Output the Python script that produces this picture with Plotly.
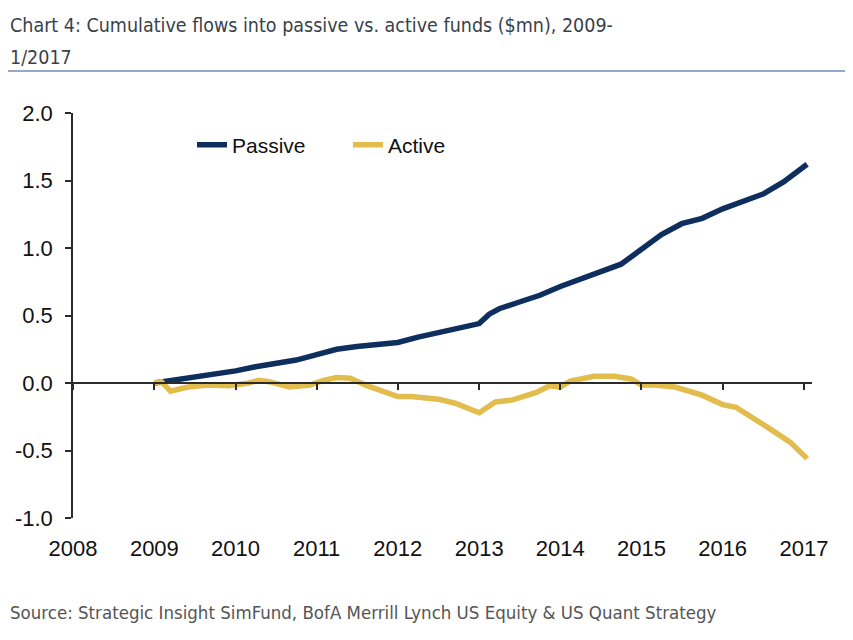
import plotly.graph_objects as go

# ---- data ----
passive_dates = ["2009-01-01", "2009-04-01", "2009-07-01", "2009-10-01",
                 "2010-01-01", "2010-04-01", "2010-07-01", "2010-10-01",
                 "2011-01-01", "2011-04-01", "2011-07-01", "2011-10-01",
                 "2012-01-01", "2012-04-01", "2012-07-01", "2012-10-01",
                 "2013-01-01", "2013-02-15", "2013-04-01", "2013-07-01", "2013-10-01",
                 "2014-01-01", "2014-04-01", "2014-07-01", "2014-10-01",
                 "2015-01-01", "2015-04-01", "2015-07-01", "2015-10-01",
                 "2016-01-01", "2016-04-01", "2016-07-01", "2016-10-01",
                 "2017-01-15"]
passive_values = [0.00, 0.02, 0.05, 0.07,
                  0.09, 0.12, 0.14, 0.17,
                  0.21, 0.25, 0.27, 0.28,
                  0.30, 0.34, 0.37, 0.40,
                  0.44, 0.51, 0.55, 0.60, 0.65,
                  0.715, 0.77, 0.82, 0.88,
                  0.99, 1.10, 1.18, 1.22,
                  1.29, 1.34, 1.40, 1.49,
                  1.62]

active_dates = ["2009-01-01", "2009-02-01", "2009-03-15", "2009-06-01", "2009-09-01",
                "2009-12-01", "2010-03-01", "2010-04-15", "2010-06-01", "2010-09-01",
                "2010-12-01", "2011-02-01", "2011-04-01", "2011-06-01", "2011-08-15",
                "2011-11-01", "2012-01-01", "2012-03-01", "2012-07-01", "2012-09-15",
                "2013-01-01", "2013-03-15", "2013-06-01", "2013-09-15", "2013-11-15",
                "2014-01-01", "2014-02-15", "2014-06-01", "2014-09-01", "2014-11-15",
                "2015-01-01", "2015-03-01", "2015-06-01", "2015-10-01", "2016-01-01",
                "2016-03-01", "2016-06-01", "2016-08-01", "2016-11-01", "2017-01-15"]
active_values = [0.00, 0.01, -0.06, -0.03, -0.015,
                 -0.02, 0.00, 0.02, 0.01, -0.03,
                 -0.015, 0.02, 0.04, 0.035, -0.02,
                 -0.06, -0.10, -0.10, -0.12, -0.15,
                 -0.22, -0.14, -0.125, -0.07, -0.02,
                 -0.03, 0.015, 0.05, 0.05, 0.03,
                 -0.015, -0.015, -0.03, -0.09, -0.16,
                 -0.18, -0.27, -0.34, -0.44, -0.56]

x_range = ["2008-01-01", "2017-02-06"]
y_range = [-1.0, 2.0]
y_ticks = [-1.0, -0.5, 0.0, 0.5, 1.0, 1.5, 2.0]
y_tick_labels = ["-1.0", "-0.5", "0.0", "0.5", "1.0", "1.5", "2.0"]

title_line1 = "Chart 4: Cumulative flows into passive vs. active funds ($mn), 2009-"
title_line2 = "1/2017"
source_text = "Source: Strategic Insight SimFund, BofA Merrill Lynch US Equity & US Quant Strategy"

NAVY = "#0E2F5E"
GOLD = "#E3BC4E"
AXIS = "#2B2B2B"
NARROW = "DejaVu Sans Condensed, Liberation Sans Narrow, sans-serif"
ARIAL = "Liberation Sans, Arial, sans-serif"

# page body has an 8px margin: figure is sized to fit inside the window
W, H = 845, 632
L, T, R, B = 65, 105, 41, 122
PW, PH = W - L - R, H - T - B


def px_x(px):  # internal pixel -> paper x
    return (px - L) / PW


def px_y(py):  # internal pixel -> paper y
    return (H - B - py) / PH


fig = go.Figure()
fig.add_trace(go.Scatter(x=passive_dates, y=passive_values, name="Passive",
                         mode="lines", line=dict(color=NAVY, width=5.5)))
fig.add_trace(go.Scatter(x=active_dates, y=active_values, name="Active",
                         mode="lines", line=dict(color=GOLD, width=5.5)))
# helper trace so the zero-line axis (x2) is drawn
fig.add_trace(go.Scatter(x=[x_range[0]], y=[0], xaxis="x2", mode="markers",
                         marker=dict(opacity=0), showlegend=False, hoverinfo="skip"))

zero_pos = (0 - y_range[0]) / (y_range[1] - y_range[0])

fig.update_layout(
    width=W, height=H,
    margin=dict(l=L, r=R, t=T, b=B, autoexpand=False),
    paper_bgcolor="white", plot_bgcolor="white",
    showlegend=True,
    legend=dict(orientation="h", x=px_x(184), y=px_y(137), xanchor="left", yanchor="middle",
                font=dict(family=ARIAL, size=21, color="#111111"),
                bgcolor="rgba(0,0,0,0)", entrywidth=111, tracegroupgap=0),
    xaxis=dict(type="date", range=x_range, dtick="M12", tick0="2008-01-01",
               tickformat="%Y", showgrid=False, zeroline=False, showline=False,
               ticks="", ticklabelstandoff=15,
               tickfont=dict(family=ARIAL, size=22, color="#111111")),
    xaxis2=dict(type="date", range=x_range, dtick="M12", tick0="2008-01-01",
                overlaying="x", anchor="free", position=zero_pos,
                showgrid=False, zeroline=False, showline=True, linecolor=AXIS,
                linewidth=1.5, ticks="outside", ticklen=6, tickwidth=1.5,
                tickcolor=AXIS, showticklabels=False),
    yaxis=dict(range=y_range, tickvals=y_ticks, ticktext=y_tick_labels,
               showgrid=False, zeroline=False, showline=True, linecolor=AXIS,
               linewidth=1.5, ticks="outside", ticklen=6, tickwidth=1.5,
               tickcolor=AXIS, ticklabelstandoff=8,
               tickfont=dict(family=ARIAL, size=22, color="#111111")),
)

fig.add_annotation(text=title_line1, xref="paper", yref="paper",
                   x=px_x(0), y=px_y(17), xanchor="left", yanchor="middle",
                   showarrow=False, font=dict(family=NARROW, size=19.5, color="#3A3F4A"))
fig.add_annotation(text=title_line2, xref="paper", yref="paper",
                   x=px_x(0), y=px_y(49), xanchor="left", yanchor="middle",
                   showarrow=False, font=dict(family=NARROW, size=19.5, color="#3A3F4A"))

fig.add_shape(type="line", xref="paper", yref="paper", x0=px_x(-8), x1=px_x(W),
              y0=px_y(63), y1=px_y(63), line=dict(color="#6E8DB5", width=1.5))

fig.add_annotation(text=source_text, xref="paper", yref="paper",
                   x=px_x(0), y=px_y(604), xanchor="left", yanchor="middle",
                   showarrow=False,
                   font=dict(family=NARROW, size=18.5, color="#555555"))

fig.write_html("out.html")
